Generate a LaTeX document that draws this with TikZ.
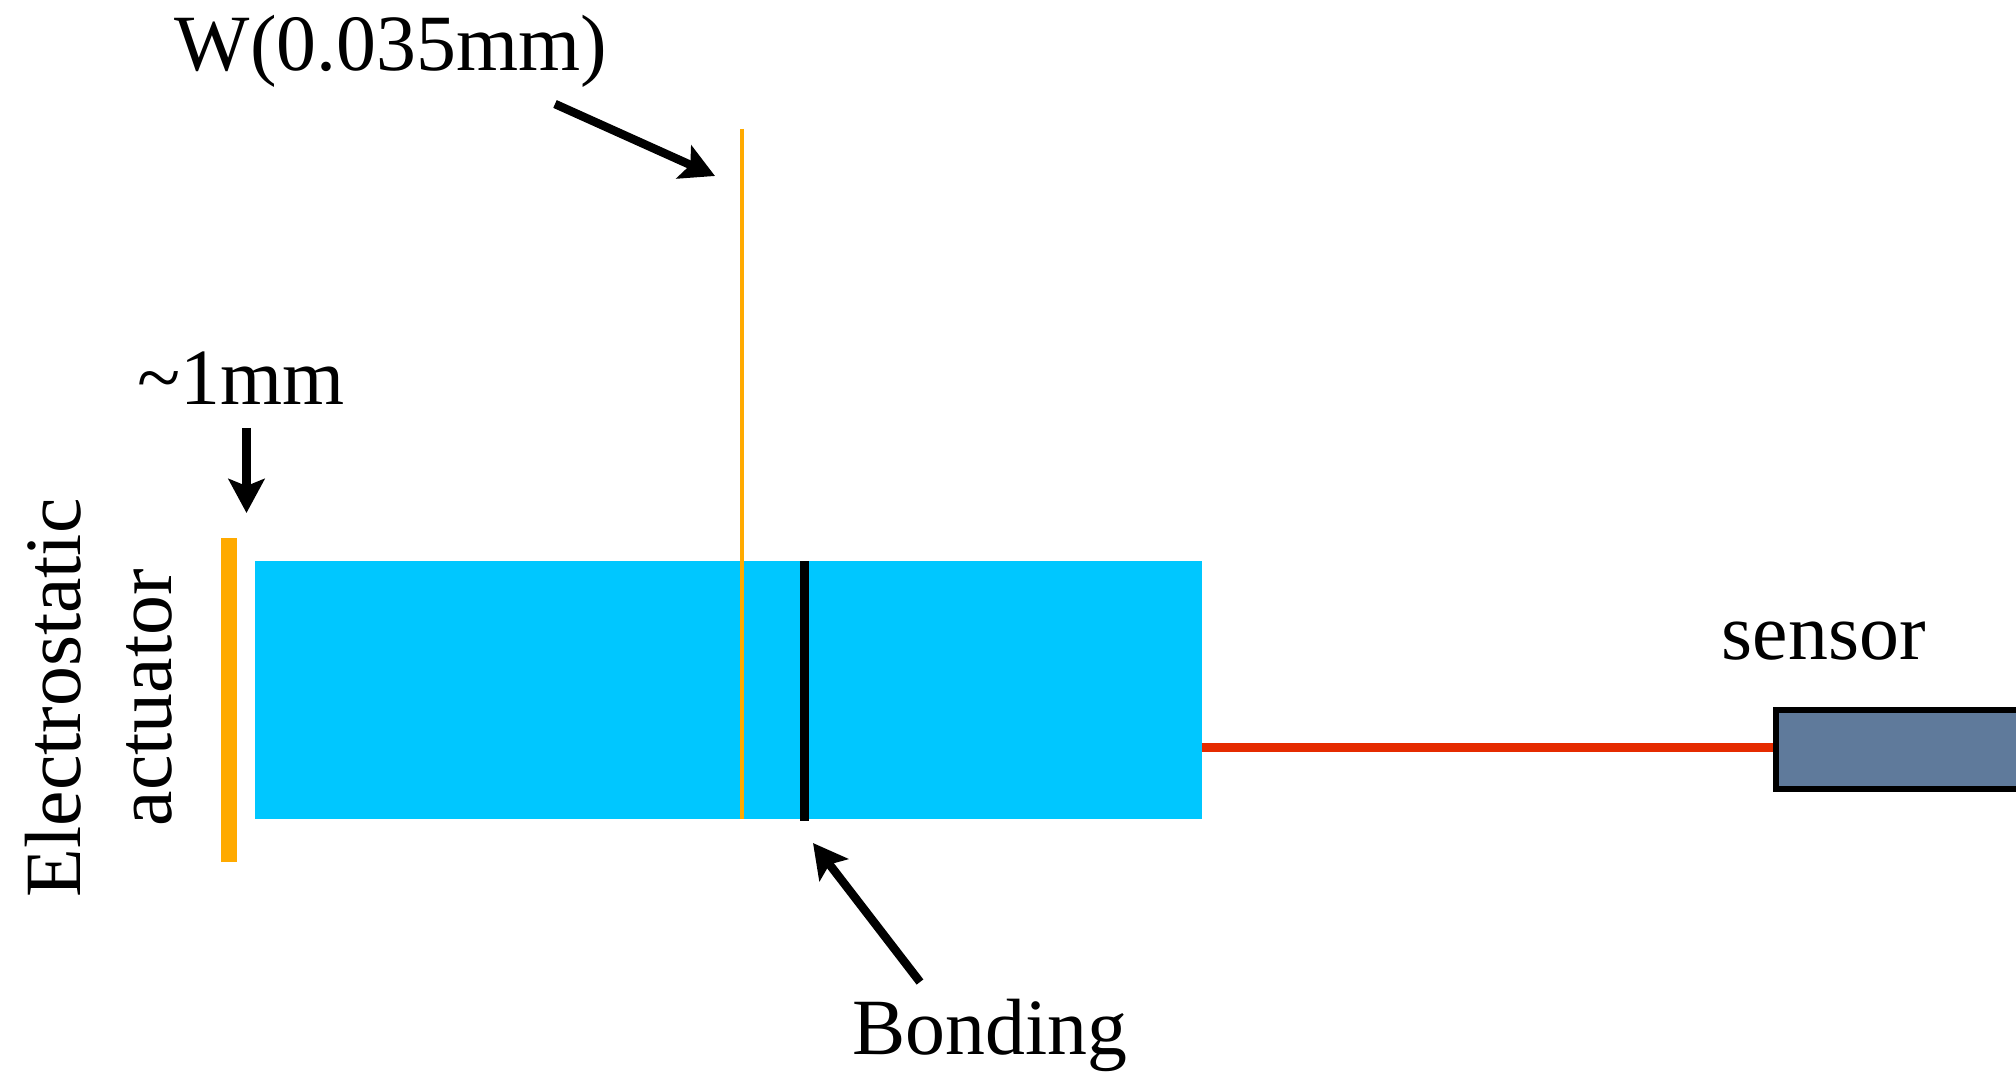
\documentclass[tikz,border=0pt]{standalone}
\usepackage{fontspec}
\setmainfont{Liberation Serif}
\usepackage{xcolor}
\usetikzlibrary{positioning,arrows.meta}
\definecolor{blockcyan}{HTML}{00C7FF}
\definecolor{wireorange}{HTML}{FFAA00}
\definecolor{fibrered}{HTML}{E52B00}
\definecolor{sensorslate}{HTML}{5F7A9B}

\begin{document}
\begin{tikzpicture}[
		x=1cm,y=1cm,
		label text/.style={font=\fontsize{22.7}{26}\selectfont,inner sep=0pt,anchor=base west},
		side text/.style={label text,rotate=90},
		pointer/.style={-{Stealth[length=3.4mm,width=3.6mm,inset=0.7mm]},line width=0.85mm,black}
	]
		\useasboundingbox (0,0) rectangle (20.16,10.71);

		% Quartz block with the actuator plate beside it.
		\node[fill=blockcyan,inner sep=0pt,minimum width=9.47cm,minimum height=2.58cm,anchor=north west]
			(block) at (2.54,5.11) {};
		\node[fill=wireorange,inner sep=0pt,minimum width=0.16cm,minimum height=3.24cm,anchor=north west]
			(actuator) at (2.20,5.34) {};

		% Thin wire and the bonding line over the block.
		\coordinate (wire top) at (7.42,9.42);
		\coordinate (wire bottom) at (7.42,2.52);
		\draw[wireorange,line width=0.04cm] (wire top) -- (wire bottom);
		\coordinate (bond top) at (8.045,5.10);
		\coordinate (bond bottom) at (8.045,2.50);
		\draw[black,line width=0.09cm] (bond top) -- (bond bottom);

		% Sensor runs off the right edge.
		\node[draw=black,line width=0.06cm,fill=sensorslate,inner sep=0pt,minimum width=3.2cm,minimum height=0.79cm,anchor=west]
			(sensor) at (17.73,3.21) {};
		\coordinate (beam start) at (block.east |- 0,3.235);
		\coordinate (beam end) at (sensor.west |- 0,3.235);
		\draw[fibrered,line width=0.09cm] (beam start) -- (beam end);

		% Labels.
		\node[label text] (wire label) at (1.74,10.00) {W(0.035mm)};
		\node[label text] (gap label) at (1.37,6.66) {\textasciitilde 1mm};
		\node[side text] (electrostatic label) at (0.80,1.73) {Electrostatic};
		\node[side text] (actuator label) at (1.71,2.44) {actuator};
		\node[label text] (sensor label) at (17.21,4.11) {sensor};
		\node[label text] (bonding label) at (8.52,0.17) {Bonding};

		% Arrows to the parts they name.
		\coordinate (wire tail) at (5.55,9.67);
		\coordinate (wire tip) at (7.15,8.95);
		\draw[pointer] (wire tail) -- (wire tip);
		\coordinate (gap tail) at (2.465,6.43);
		\coordinate (gap tip) at (2.465,5.58);
		\draw[pointer] (gap tail) -- (gap tip);
		\coordinate (bonding tail) at (9.20,0.89);
		\coordinate (bonding tip) at (8.13,2.28);
		\draw[pointer] (bonding tail) -- (bonding tip);
	\end{tikzpicture}
\end{document}
